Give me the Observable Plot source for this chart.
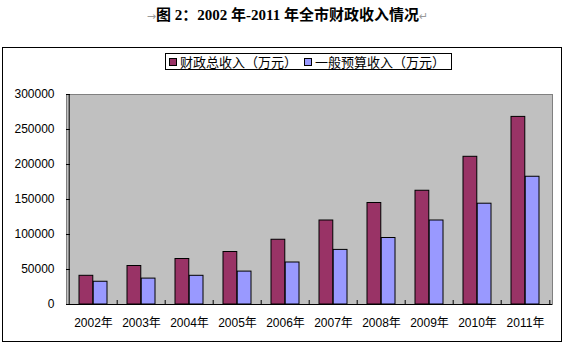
<!DOCTYPE html>
<html>
<head>
<meta charset="utf-8">
<script src="https://cdn.jsdelivr.net/npm/d3@7"></script>
<script src="https://cdn.jsdelivr.net/npm/@observablehq/plot@0.6"></script>
<style>
  html, body { margin: 0; padding: 0; background: #fff; }
  #page { position: relative; width: 575px; height: 352px; overflow: hidden; background: #fff; }
  #title { position: absolute; left: 0; top: 3px; width: 575px; text-align: center;
           font-family: "Liberation Serif", "Noto Sans CJK SC", serif; font-weight: bold; font-size: 15px; color: #000; white-space: nowrap; }
  #title .mark { color: #9a9a9a; font-weight: normal; font-size: 11px; font-family: "DejaVu Sans", sans-serif; }
  #box { position: absolute; left: 2px; top: 47px; width: 558px; height: 293px; border: 1px solid #000; }
  #legend { position: absolute; left: 165px; top: 53px; width: 285px; height: 15px; border: 1px solid #000; background: #fff;
            font-family: "Noto Sans CJK SC", sans-serif; font-size: 13px; line-height: 15px; white-space: nowrap; }
  #legend .item { position: absolute; top: 0; }
  #legend .sw { display: inline-block; width: 6px; height: 6px; border: 1px solid #000; margin-right: 3px; vertical-align: 1px; }
  #chart { position: absolute; left: 0; top: 75px; }
</style>
</head>
<body>
<div id="page">
  <div id="title"><span class="mark">→</span>图 2：2002 年-2011 年全市财政收入情况<span class="mark">↵</span></div>
  <div id="box"></div>
  <div id="legend"></div>
  <div id="chart"></div>
</div>
<script>
const years = ["2002年", "2003年", "2004年", "2005年", "2006年", "2007年", "2008年", "2009年", "2010年", "2011年"];
const seriesNames = ["财政总收入（万元）", "一般预算收入（万元）"];
const totalRevenue = [41000, 55000, 65000, 75000, 92500, 120000, 145000, 162500, 211000, 268000];
const budgetRevenue = [32500, 37000, 41000, 47000, 60000, 78000, 95000, 120000, 144000, 182500];
const yTicks = [0, 50000, 100000, 150000, 200000, 250000, 300000];
const colors = ["#993366", "#9999ff"];

const totalRows = years.map((y, i) => ({year: y, value: totalRevenue[i]}));
const budgetRows = years.map((y, i) => ({year: y, value: budgetRevenue[i]}));

// legend
const legend = document.getElementById("legend");
const legendLeft = [3, 138];
seriesNames.forEach((name, i) => {
  const it = document.createElement("span");
  it.className = "item";
  it.style.left = legendLeft[i] + "px";
  it.innerHTML = `<span class="sw" style="background:${colors[i]}"></span>${name}`;
  legend.appendChild(it);
});

const W = 560, H = 260, mL = 66, mR = 8, mT = 19, mB = 31;
const pInner = 0.415, pOuter = 0.2075;
const step = (W - mL - mR) / (years.length - pInner + 2 * pOuter);
const bw = step * (1 - pInner);

const chart = Plot.plot({
  width: W, height: H,
  marginLeft: mL, marginRight: mR, marginTop: mT, marginBottom: mB,
  style: {background: "transparent", fontFamily: "'Liberation Sans', Arial, 'Noto Sans CJK SC', sans-serif", fontSize: "12px", color: "#000"},
  x: {domain: years, paddingInner: pInner, paddingOuter: pOuter, label: null},
  y: {domain: [0, 300000], label: null},
  marks: [
    Plot.frame({fill: "#c0c0c0", stroke: "#808080"}),
    Plot.barY(totalRows, {x: "year", y: "value", fill: colors[0], stroke: "#000", strokeWidth: 1, insetRight: bw / 2}),
    Plot.barY(budgetRows, {x: "year", y: "value", fill: colors[1], stroke: "#000", strokeWidth: 1, insetLeft: bw / 2}),
    Plot.ruleY([0], {stroke: "#000"}),
    Plot.ruleX([years[0]], {dx: -step / 2, stroke: "#000"}),
    Plot.ruleX(years.slice(1), {x: d => d, y1: 0, y2: 0, insetTop: -4, dx: -step / 2, stroke: "#000"}),
    Plot.ruleX([years[years.length - 1]], {y1: 0, y2: 0, insetTop: -4, dx: step / 2, stroke: "#000"}),
    Plot.axisY(yTicks, {tickSize: 0, tickPadding: 12, tickFormat: d3.format("d"), fontSize: 12}),
    Plot.axisY(yTicks, {tickSize: -4, tickFormat: () => "", stroke: "#000"}),
    Plot.axisX({tickSize: 0, tickPadding: 14, fontSize: 12})
  ]
});
document.getElementById("chart").appendChild(chart);
</script>
</body>
</html>
